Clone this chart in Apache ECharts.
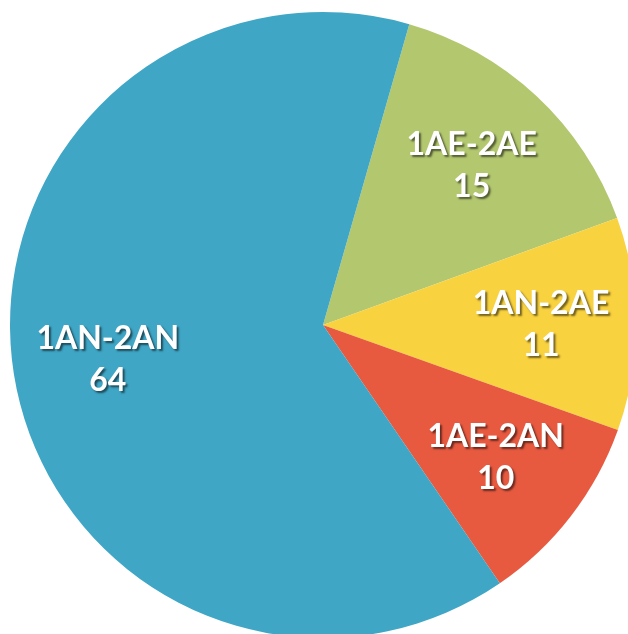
<!DOCTYPE html>
<html>
<head>
<meta charset="utf-8">
<script src="https://cdn.jsdelivr.net/npm/echarts@6/dist/echarts.min.js"></script>
<style>
  html, body { margin: 0; padding: 0; background: #fff; }
  #chart { width: 628px; height: 634px; }
</style>
</head>
<body>
<div id="chart"></div>
<script>
  // categories and values, clockwise from the green slice
  var categories = ['1AE-2AE', '1AN-2AE', '1AE-2AN', '1AN-2AN'];
  var values = [15, 11, 10, 64];
  var colors = ['#B3C76F', '#F9D23F', '#E85A40', '#3FA6C6'];

  var pieData = categories.map(function (name, i) {
    return { name: name, value: values[i], itemStyle: { color: colors[i] } };
  });

  var chart = echarts.init(document.getElementById('chart'));
  chart.setOption({
    animation: false,
    series: [
      {
        type: 'pie',
        center: [323, 325],
        radius: [0, 313],
        startAngle: 74,
        clockwise: true,
        silent: true,
        label: { show: false },
        labelLine: { show: false },
        data: pieData
      },
      {
        // transparent ring, only used to put the labels further out
        type: 'pie',
        center: [323, 325],
        radius: [117, 313],
        startAngle: 74,
        clockwise: true,
        silent: true,
        itemStyle: { color: 'transparent' },
        labelLine: { show: false },
        label: {
          show: true,
          position: 'inside',
          formatter: '{b}\n{c}',
          color: '#fff',
          fontFamily: 'Lato',
          fontWeight: 'bold',
          fontSize: 32,
          lineHeight: 42,
          textShadowColor: 'rgba(0,0,0,0.55)',
          textShadowBlur: 2,
          textShadowOffsetX: 2,
          textShadowOffsetY: 2
        },
        data: categories.map(function (name, i) {
          return { name: name, value: values[i] };
        })
      }
    ]
  });
</script>
</body>
</html>
